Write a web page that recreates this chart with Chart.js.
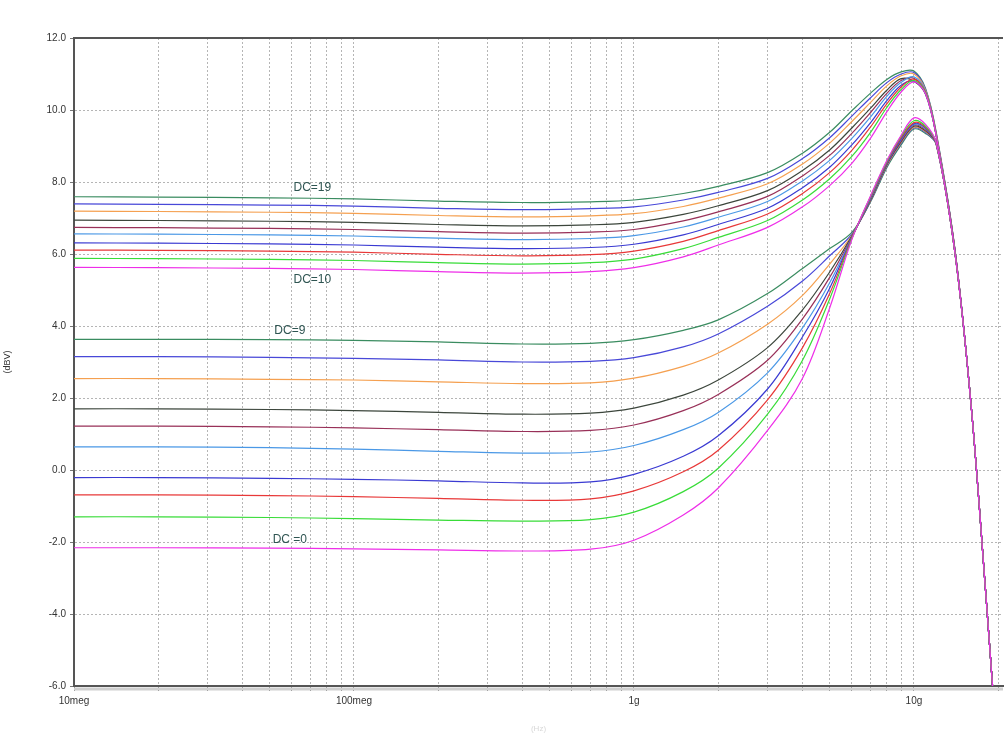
<!DOCTYPE html>
<html lang="en">
<head>
  <meta charset="UTF-8">
  <title>DC sweep - gain vs frequency</title>
  <style>
    * {
      margin: 0;
      padding: 0;
      box-sizing: border-box;
    }

    body {
      background-color: #fff;
      font-family: "Liberation Sans", Arial, sans-serif;
    }

    #wrap {
      position: relative;
      width: 1005px;
      height: 734px;
    }
  </style>
  <script src="https://cdn.jsdelivr.net/npm/chart.js"></script>
</head>
<body>
  <div id="wrap">
    <canvas id="gainChart"></canvas>
  </div>

  <script>
    // frequency points (Hz) shared by every curve
    const freqs = [1e7, 2e7, 5e7, 1e8, 2e8, 4e8, 7e8, 1e9, 1.5e9, 2e9, 3e9, 4e9, 5e9, 6e9, 7e9, 8e9, 9e9, 1e10, 1.1e10, 1.2e10, 1.4e10, 1.6e10, 1.8e10, 1.95e10];

    // dBV values, one array per DC step
    const dc0  = [-2.16, -2.16, -2.17, -2.19, -2.22, -2.25, -2.20, -1.95, -1.25, -0.50, 1.10, 2.55, 4.50, 6.40, 7.62, 8.60, 9.30, 9.78, 9.60, 9.10, 6.05, 1.80, -3.30, -7.0];
    const dc1  = [-1.30, -1.30, -1.32, -1.35, -1.39, -1.42, -1.38, -1.17, -0.60, 0.05, 1.55, 3.05, 4.75, 6.42, 7.60, 8.57, 9.27, 9.70, 9.55, 9.10, 6.05, 1.80, -3.30, -7.0];
    const dc2  = [-0.69, -0.69, -0.71, -0.74, -0.79, -0.84, -0.80, -0.58, -0.05, 0.55, 1.95, 3.40, 4.90, 6.44, 7.58, 8.55, 9.23, 9.65, 9.52, 9.10, 6.05, 1.80, -3.30, -7.0];
    const dc3  = [-0.21, -0.21, -0.23, -0.26, -0.30, -0.36, -0.33, -0.12, 0.38, 0.95, 2.25, 3.70, 5.05, 6.45, 7.56, 8.53, 9.20, 9.62, 9.50, 9.10, 6.05, 1.80, -3.30, -7.0];
    const dc4  = [0.64, 0.64, 0.62, 0.58, 0.52, 0.47, 0.50, 0.68, 1.12, 1.60, 2.70, 3.95, 5.20, 6.46, 7.54, 8.52, 9.18, 9.60, 9.48, 9.10, 6.05, 1.80, -3.30, -7.0];
    const dc5  = [1.22, 1.22, 1.20, 1.17, 1.12, 1.07, 1.10, 1.25, 1.65, 2.10, 3.05, 4.20, 5.35, 6.48, 7.52, 8.50, 9.15, 9.58, 9.45, 9.08, 6.05, 1.80, -3.30, -7.0];
    const dc6  = [1.70, 1.70, 1.68, 1.65, 1.60, 1.55, 1.58, 1.72, 2.08, 2.50, 3.40, 4.45, 5.50, 6.50, 7.50, 8.48, 9.12, 9.55, 9.42, 9.07, 6.05, 1.80, -3.30, -7.0];
    const dc7  = [2.54, 2.54, 2.52, 2.50, 2.45, 2.40, 2.42, 2.55, 2.88, 3.25, 4.05, 4.85, 5.72, 6.52, 7.49, 8.46, 9.10, 9.52, 9.40, 9.07, 6.05, 1.80, -3.30, -7.0];
    const dc8  = [3.15, 3.15, 3.13, 3.10, 3.06, 3.00, 3.02, 3.12, 3.42, 3.78, 4.55, 5.25, 5.95, 6.55, 7.47, 8.44, 9.07, 9.50, 9.38, 9.05, 6.05, 1.80, -3.30, -7.0];
    const dc9  = [3.63, 3.63, 3.62, 3.60, 3.56, 3.50, 3.52, 3.62, 3.88, 4.17, 4.90, 5.60, 6.15, 6.60, 7.45, 8.40, 9.03, 9.47, 9.35, 9.05, 6.05, 1.80, -3.30, -7.0];
    const dc10 = [5.63, 5.62, 5.60, 5.57, 5.51, 5.47, 5.51, 5.62, 5.92, 6.25, 6.74, 7.31, 7.90, 8.52, 9.22, 9.95, 10.50, 10.78, 10.45, 9.30, 6.10, 1.80, -3.30, -7.0];
    const dc11 = [5.88, 5.87, 5.85, 5.82, 5.76, 5.72, 5.76, 5.86, 6.15, 6.46, 6.93, 7.50, 8.09, 8.71, 9.38, 10.07, 10.57, 10.82, 10.47, 9.30, 6.10, 1.80, -3.30, -7.0];
    const dc12 = [6.11, 6.10, 6.08, 6.05, 5.99, 5.95, 5.98, 6.08, 6.35, 6.65, 7.11, 7.68, 8.26, 8.88, 9.53, 10.17, 10.64, 10.86, 10.50, 9.32, 6.11, 1.80, -3.30, -7.0];
    const dc13 = [6.31, 6.30, 6.28, 6.25, 6.19, 6.15, 6.18, 6.27, 6.53, 6.82, 7.27, 7.84, 8.41, 9.03, 9.65, 10.26, 10.69, 10.80, 10.46, 9.30, 6.10, 1.80, -3.30, -7.0];
    const dc14 = [6.56, 6.55, 6.53, 6.50, 6.44, 6.40, 6.43, 6.51, 6.75, 7.02, 7.46, 8.03, 8.60, 9.21, 9.81, 10.38, 10.77, 10.92, 10.52, 9.33, 6.12, 1.80, -3.30, -7.0];
    const dc15 = [6.74, 6.73, 6.71, 6.68, 6.62, 6.58, 6.61, 6.68, 6.92, 7.17, 7.60, 8.17, 8.74, 9.35, 9.93, 10.46, 10.82, 10.88, 10.50, 9.32, 6.12, 1.80, -3.30, -7.0];
    const dc16 = [6.94, 6.93, 6.91, 6.88, 6.82, 6.78, 6.81, 6.88, 7.10, 7.34, 7.76, 8.32, 8.89, 9.50, 10.05, 10.55, 10.87, 10.80, 10.44, 9.30, 6.10, 1.80, -3.30, -7.0];
    const dc17 = [7.19, 7.18, 7.16, 7.13, 7.07, 7.03, 7.06, 7.12, 7.32, 7.55, 7.95, 8.50, 9.08, 9.68, 10.21, 10.67, 10.95, 11.00, 10.55, 9.35, 6.13, 1.80, -3.30, -7.0];
    const dc18 = [7.39, 7.38, 7.36, 7.33, 7.27, 7.23, 7.26, 7.31, 7.50, 7.71, 8.10, 8.65, 9.23, 9.83, 10.34, 10.76, 11.00, 11.04, 10.57, 9.37, 6.14, 1.80, -3.30, -7.0];
    const dc19 = [7.59, 7.58, 7.56, 7.53, 7.47, 7.43, 7.45, 7.50, 7.68, 7.88, 8.26, 8.80, 9.38, 9.98, 10.47, 10.85, 11.06, 11.08, 10.60, 9.40, 6.15, 1.80, -3.30, -7.0];

    const allSeries = [dc0, dc1, dc2, dc3, dc4, dc5, dc6, dc7, dc8, dc9,
                       dc10, dc11, dc12, dc13, dc14, dc15, dc16, dc17, dc18, dc19];

    // colour cycle, DC=0 / DC=10 start at magenta
    const lineColors = ['#ee2ee8', '#38dc38', '#e83838', '#3a3ad2', '#4a98e6',
                        '#983058', '#3c463c', '#f5a050', '#4848d8', '#3a8c60'];

    // axis ticks
    const xGridValues = [1e7, 2e7, 3e7, 4e7, 5e7, 6e7, 7e7, 8e7, 9e7,
                         1e8, 2e8, 3e8, 4e8, 5e8, 6e8, 7e8, 8e8, 9e8,
                         1e9, 2e9, 3e9, 4e9, 5e9, 6e9, 7e9, 8e9, 9e9,
                         1e10, 2e10];
    const xLabelValues = [1e7, 1e8, 1e9, 1e10];
    const xLabelText = ['10meg', '100meg', '1g', '10g'];

    // curve annotations
    const noteText = ['DC=19', 'DC=10', 'DC=9', 'DC =0'];
    const noteX = [7.1e7, 7.1e7, 5.9e7, 5.9e7];
    const noteY = [7.83, 5.28, 3.86, -1.94];

    const datasets = allSeries.map((vals, i) => ({
      label: 'DC=' + i,
      data: vals.map((v, j) => ({ x: freqs[j], y: v })),
      borderColor: lineColors[i % 10],
      borderWidth: 1.2,
      pointRadius: 0,
      fill: false,
      tension: 0.35
    }));

    // frame on top, shadow under the x axis, curve labels
    const framePlugin = {
      id: 'frame',
      afterDatasetsDraw(chart) {
        const ctx = chart.ctx;
        const area = chart.chartArea;
        const xs = chart.scales.x;
        const ys = chart.scales.y;

        ctx.save();
        ctx.strokeStyle = '#555';
        ctx.lineWidth = 2;
        ctx.beginPath();
        ctx.moveTo(area.left, area.top);
        ctx.lineTo(area.right, area.top);
        ctx.stroke();

        ctx.strokeStyle = '#cfcfcf';
        ctx.lineWidth = 3;
        ctx.beginPath();
        ctx.moveTo(area.left, area.bottom + 3);
        ctx.lineTo(area.right, area.bottom + 3);
        ctx.stroke();

        ctx.fillStyle = '#2f5552';
        ctx.font = '12px "Liberation Sans", Arial, sans-serif';
        ctx.textAlign = 'center';
        ctx.textBaseline = 'middle';
        for (let i = 0; i < noteText.length; i++) {
          ctx.fillText(noteText[i], xs.getPixelForValue(noteX[i]), ys.getPixelForValue(noteY[i]));
        }
        ctx.restore();
      }
    };

    const ctx = document.getElementById('gainChart').getContext('2d');

    new Chart(ctx, {
      type: 'line',
      data: { datasets: datasets },
      plugins: [framePlugin],
      options: {
        responsive: true,
        maintainAspectRatio: false,
        animation: false,
        layout: { padding: { top: 38, right: 2, left: 0, bottom: 0 } },
        plugins: {
          legend: { display: false },
          tooltip: { enabled: false }
        },
        scales: {
          x: {
            type: 'logarithmic',
            min: 1e7,
            max: 2.08e10,
            afterBuildTicks: (scale) => {
              scale.ticks = xGridValues.map(v => ({ value: v }));
            },
            afterFit: (scale) => { scale.height = 48; },
            ticks: {
              autoSkip: false,
              maxRotation: 0,
              padding: 4,
              color: '#333',
              font: { family: '"Liberation Sans", Arial, sans-serif', size: 10 },
              callback: (value) => {
                const k = xLabelValues.indexOf(value);
                return k >= 0 ? xLabelText[k] : '';
              }
            },
            grid: {
              color: '#b5b5b5',
              lineWidth: 1,
              tickColor: '#777',
              tickLength: 5,
              tickBorderDash: []
            },
            border: { color: '#555', width: 2, dash: [2, 2] },
            title: {
              display: true,
              text: '(Hz)',
              color: '#d8d8d8',
              font: { size: 8 },
              padding: 0
            }
          },
          y: {
            min: -6,
            max: 12,
            afterFit: (scale) => { scale.width = 74; },
            ticks: {
              stepSize: 2,
              padding: 4,
              color: '#333',
              font: { family: '"Liberation Sans", Arial, sans-serif', size: 10 },
              callback: (value) => value.toFixed(1)
            },
            grid: {
              color: '#b5b5b5',
              lineWidth: 1,
              tickColor: '#777',
              tickLength: 4,
              tickBorderDash: []
            },
            border: { color: '#555', width: 2, dash: [2, 2] },
            title: {
              display: true,
              text: '(dBV)',
              color: '#333',
              font: { family: '"Liberation Sans", Arial, sans-serif', size: 9 },
              padding: 2
            }
          }
        }
      }
    });
  </script>
</body>
</html>
